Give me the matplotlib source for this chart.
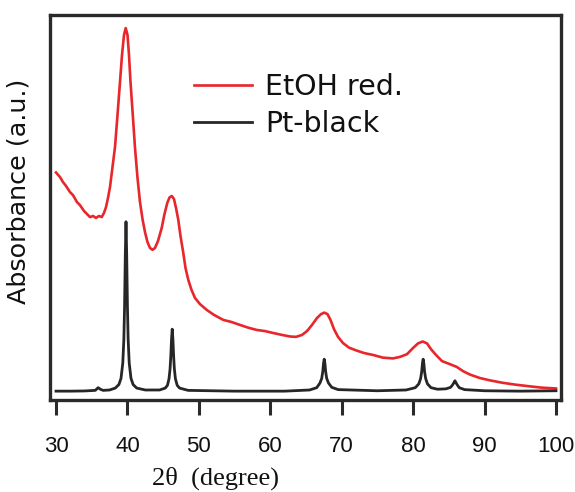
import matplotlib
matplotlib.use("Agg")
import matplotlib.pyplot as plt

# EtOH-reduced sample: broad diffraction profile (2theta in degrees, intensity in a.u.)
etoh_2theta = [30.00, 30.56, 30.98, 31.40, 31.96, 32.38, 32.94, 33.36, 33.92, 34.34,
               34.76, 35.18, 35.60, 36.02, 36.40, 36.72, 37.00, 37.28, 37.56, 37.91,
               38.26, 38.61, 38.96, 39.24, 39.52, 39.76, 40.01, 40.22, 40.43, 40.78,
               41.06, 41.41, 41.76, 42.11, 42.46, 42.81, 43.16, 43.51, 43.86, 44.28,
               44.80, 45.19, 45.58, 45.89, 46.20, 46.52, 46.80, 47.12, 47.43, 47.82,
               48.13, 48.52, 48.97, 49.46, 50.16, 51.10, 52.12, 53.42, 54.50, 55.76,
               56.88, 58.10, 59.26, 60.42, 61.64, 62.76, 63.60, 64.44, 65.14, 65.84,
               66.54, 67.10, 67.56, 68.01, 68.43, 68.92, 69.48, 70.18, 71.02, 72.00,
               73.12, 74.38, 75.78, 77.18, 78.16, 79.14, 79.98, 80.68, 81.34, 81.94,
               82.50, 83.20, 84.04, 85.02, 86.10, 86.98, 87.96, 89.36, 90.76, 92.44,
               94.26, 96.08, 98.04, 100.00]
etoh_int = [59.1, 57.9, 56.6, 55.6, 54.0, 53.2, 51.4, 50.6, 49.1, 48.3,
            47.5, 47.8, 47.3, 47.8, 47.5, 48.6, 50.1, 52.5, 55.3, 60.5,
            65.7, 74.0, 82.6, 89.6, 94.8, 96.6, 94.8, 89.6, 82.6, 73.2,
            65.5, 57.7, 51.4, 47.0, 43.6, 41.0, 39.5, 39.0, 39.5, 41.3,
            44.7, 48.3, 51.2, 52.6, 53.0, 52.2, 49.9, 46.8, 42.6, 38.2,
            34.3, 31.2, 28.6, 26.5, 24.9, 23.4, 22.1, 20.8, 20.3, 19.5,
            18.8, 18.2, 17.9, 17.4, 16.9, 16.5, 16.4, 16.9, 17.9, 19.5,
            21.3, 22.3, 22.7, 22.3, 20.8, 18.4, 16.4, 14.8, 13.6, 12.9,
            12.2, 11.7, 11.0, 10.8, 11.2, 11.9, 13.5, 14.7, 15.2, 14.7,
            13.2, 11.7, 10.1, 9.4, 8.6, 7.5, 6.6, 5.7, 5.1, 4.5,
            4.0, 3.6, 3.2, 3.0]

# Pt-black reference: sharp reflections
pt_2theta = [30.0, 32.0, 34.0, 35.5, 35.9, 36.2, 36.6, 37.5,
             38.3, 38.8, 39.1, 39.35, 39.5, 39.6, 39.7, 39.8, 39.9, 40.0, 40.1, 40.25,
             40.5, 40.8, 41.3, 42.5, 44.5,
             45.3, 45.6, 45.82, 45.97, 46.07, 46.17, 46.27, 46.37, 46.47, 46.57, 46.72,
             46.97, 47.3, 48.5, 55.0, 62.0,
             65.5, 66.5, 66.95, 67.2, 67.35, 67.45, 67.55, 67.65, 67.75, 67.9, 68.15,
             68.6, 69.5, 75.0,
             79.0, 80.3, 80.8, 81.05, 81.2, 81.3, 81.4, 81.5, 81.6, 81.75, 82.0,
             82.5, 83.4, 84.6,
             85.25, 85.55, 85.7, 85.85, 86.0, 86.15, 86.45, 87.2, 90.0, 95.0, 100.0]
pt_int = [2.3, 2.3, 2.35, 2.5, 3.2, 2.8, 2.5, 2.6,
          3.1, 4.0, 5.6, 9.6, 15.8, 24.3, 37.5, 46.3, 37.5, 24.3, 15.8, 9.6,
          5.6, 4.0, 3.1, 2.6, 2.6,
          3.1, 3.8, 5.5, 8.1, 11.3, 15.7, 18.4, 15.7, 11.3, 8.1, 5.5,
          3.8, 3.1, 2.5, 2.3, 2.3,
          2.6, 3.2, 4.4, 5.6, 7.4, 9.5, 10.6, 9.5, 7.4, 5.6, 4.4,
          3.3, 2.7, 2.4,
          2.6, 3.2, 4.2, 5.6, 7.4, 9.5, 10.6, 9.5, 7.4, 5.6, 4.2,
          3.2, 2.8, 2.9,
          3.3, 4.0, 4.5, 5.0, 4.5, 4.0, 3.2, 2.7, 2.4, 2.3, 2.4]

series_labels = ["EtOH red.", "Pt-black"]
series_colors = ["#e8262b", "#262626"]
x_ticks = [30, 40, 50, 60, 70, 80, 90, 100]
x_label = "2\u03b8  (degree)"
y_label = "Absorbance (a.u.)"

W, H = 575, 492
fig = plt.figure(figsize=(W / 100, H / 100), dpi=100)
ax = fig.add_axes([50 / W, 92 / H, 511 / W, 385 / H])

ax.plot(etoh_2theta, etoh_int, color=series_colors[0], lw=1.9,
        label=series_labels[0], solid_joinstyle="round")
ax.plot(pt_2theta, pt_int, color=series_colors[1], lw=2.0,
        label=series_labels[1], solid_joinstyle="round")

ax.set_xlim(29.16, 100.70)
ax.set_ylim(0, 100)
ax.set_xticks(x_ticks)
ax.set_yticks([])

for sp in ax.spines.values():
    sp.set_color("#2a2a2a")
    sp.set_linewidth(2.4)

ax.tick_params(axis="x", direction="out", length=10.8, width=2.2,
               color="#2a2a2a", pad=15, labelsize=16)
for lab in ax.get_xticklabels():
    lab.set_fontfamily("Liberation Sans")
    lab.set_color("#111111")

leg = ax.legend(loc="upper left", bbox_to_anchor=(194 / W, 1 - 73 / H),
                bbox_transform=fig.transFigure, frameon=False,
                handlelength=2.05, handletextpad=0.45, labelspacing=0.33,
                borderpad=0, borderaxespad=0,
                prop={"family": "DejaVu Sans", "size": 20.5})
for t in leg.get_texts():
    t.set_color("#111111")

fig.text(216 / W, 1 - 485 / H, x_label, ha="center", va="baseline",
         family="Liberation Serif", fontsize=19, color="#111111")
fig.text(19 / W, 1 - 191 / H, y_label, ha="center", va="center",
         rotation=90, family="DejaVu Sans", fontsize=18.3, color="#111111")

fig.savefig("out.png", dpi=100)
